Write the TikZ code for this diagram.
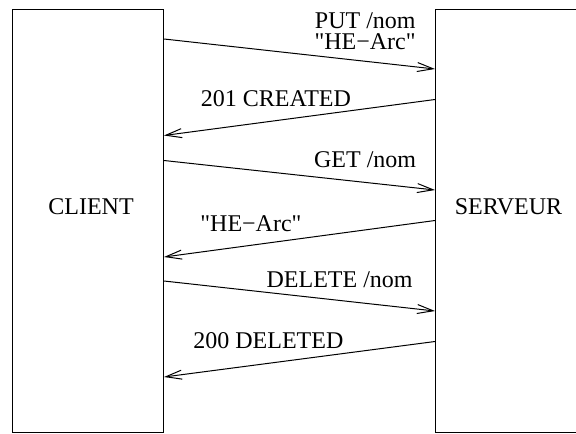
\documentclass[tikz,border=0pt]{standalone}
\usepackage{fontspec}
\setmainfont{Liberation Serif}
\usetikzlibrary{calc,arrows.meta}
\tikzset{
      host/.style={draw, line width=0.5pt, inner sep=0pt,
                  minimum width=#1, minimum height=211.25pt},
      msg/.style={line width=0.5pt, -{Straight Barb[length=8pt,width=4.5pt]}},
      lbl/.style={inner sep=0pt, font=\fontsize{12}{14}\selectfont}
}
\begin{document}
\begin{tikzpicture}[x=0.5pt,y=-0.5pt]
                  \useasboundingbox (0,0) rectangle (576,433);
                  % the two hosts
                  \node (client) [host=75.5pt] at (88,220.75) {};
                  \node (server) [host=75pt] at (510.5,220.75) {};
                  \node (clientname) [lbl] at (91,207) {CLIENT};
                  \node (servername) [lbl] at (508.5,207) {SERVEUR};
                  % requests from the client
                  \draw [msg] ($(client.north east)+(0,30)$) -- ($(server.north west)+(0,60)$);
                  \draw [msg] ($(client.north east)+(0,151.5)$) -- ($(server.north west)+(0,181)$);
                  \draw [msg] ($(client.north east)+(0,272)$) -- ($(server.north west)+(0,302)$);
                  % replies from the server
                  \draw [msg] ($(server.north west)+(0,90.5)$) -- ($(client.north east)+(0,126.5)$);
                  \draw [msg] ($(server.north west)+(0,211.5)$) -- ($(client.north east)+(0,248)$);
                  \draw [msg] ($(server.north west)+(0,332.5)$) -- ($(client.north east)+(0,368)$);
                  % labels
                  \node (put) [lbl, anchor=base east] at (416,29) {PUT /nom};
                  \node (putval) [lbl, anchor=base east] at (416,50) {\textquotedbl HE−Arc\textquotedbl};
                  \node (created) [lbl, anchor=base west] at (200.5,106) {201 CREATED};
                  \node (get) [lbl, anchor=base east] at (416.5,167) {GET /nom};
                  \node (getval) [lbl, anchor=base west] at (200,231) {\textquotedbl HE−Arc\textquotedbl};
                  \node (delete) [lbl, anchor=base east] at (413,287) {DELETE /nom};
                  \node (deleted) [lbl, anchor=base west] at (193,348) {200 DELETED};
\end{tikzpicture}
\end{document}
